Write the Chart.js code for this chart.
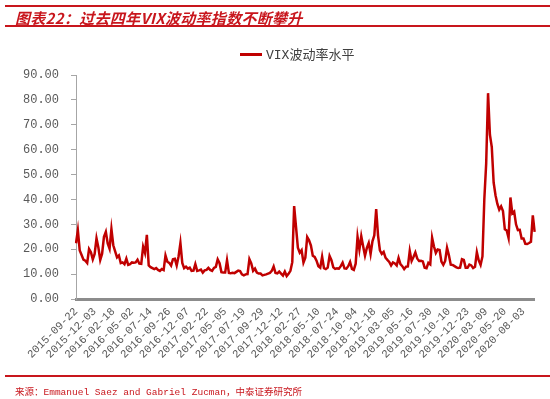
<!DOCTYPE html>
<html>
<head>
<meta charset="utf-8">
<script src="https://cdn.jsdelivr.net/npm/chart.js@4.4.1/dist/chart.umd.min.js"></script>
<style>
  html, body { margin: 0; padding: 0; background: #fff; }
  #wrap { position: relative; width: 550px; height: 399px; overflow: hidden; }
  #chart { position: absolute; left: 0; top: 0; }
  .rule { position: absolute; left: 5px; width: 545px; height: 2px; background: #c8161d; }
  #title { position: absolute; left: 15px; top: 8px; font: italic bold 15px "Noto Sans CJK SC", sans-serif; color: #c8161d; line-height: 20px; white-space: nowrap; letter-spacing: 0.3px; }
  #legend { position: absolute; left: 240px; top: 47px; height: 18px; font: 13px "Liberation Mono", "Noto Sans CJK SC", monospace; color: #404040; line-height: 18px; white-space: nowrap; }
  #legend i { display: inline-block; width: 22px; height: 3px; background: #c00000; vertical-align: middle; margin-right: 4px; position: relative; top: -1px; }
  #source { position: absolute; left: 15px; top: 385px; font: 9.5px "Liberation Mono", "Noto Sans CJK SC", monospace; color: #c8161d; line-height: 16px; white-space: nowrap; }
</style>
</head>
<body>
<div id="wrap">
  <canvas id="chart" width="550" height="399"></canvas>
  <div class="rule" style="top:5px"></div>
  <div id="title">图表22：过去四年VIX波动率指数不断攀升</div>
  <div class="rule" style="top:25px"></div>
  <div id="legend"><i></i>VIX波动率水平</div>
  <div class="rule" style="top:375px"></div>
  <div id="source">来源：Emmanuel Saez and Gabriel Zucman，中泰证券研究所</div>
</div>
<script>
// tick labels, one every 50 trading days
const tickLabels = [
  "2015-09-22", "2015-12-03", "2016-02-18", "2016-05-02", "2016-07-14",
  "2016-09-26", "2016-12-07", "2017-02-22", "2017-05-05", "2017-07-19",
  "2017-09-29", "2017-12-12", "2018-02-27", "2018-05-10", "2018-07-24",
  "2018-10-04", "2018-12-18", "2019-03-05", "2019-05-16", "2019-07-30",
  "2019-10-10", "2019-12-23", "2020-03-09", "2020-05-20", "2020-08-03"
];
const pointsPerTick = 10; // one value every 5 trading days

const vix = [
  22.4, 27.6, 19.5, 17.7, 15.8, 15.4, 14.5, 20.1, 18.8, 15.9,
  18.1, 24.4, 20.7, 15.7, 18.2, 25.0, 27.0, 22.3, 20.2, 28.1,
  21.6, 19.1, 16.7, 17.5, 14.4, 14.7, 14.0, 16.2, 13.7, 14.0,
  14.7, 14.6, 14.7, 15.8, 14.2, 14.1, 21.0, 18.5, 25.8, 13.5,
  12.8, 12.4, 12.0, 12.4, 11.7, 11.3, 12.0, 11.6, 17.5, 15.0,
  14.5, 13.4, 16.0, 16.2, 13.5, 17.1, 22.5, 14.5, 12.4, 13.0,
  12.2, 12.6, 11.3, 11.4, 14.0, 11.3, 11.5, 11.8, 10.6, 11.5,
  11.7, 12.5, 11.7, 11.3, 12.5, 12.9, 15.9, 14.4, 10.8, 10.6,
  10.6, 15.6, 10.5, 10.4, 10.5, 10.4, 10.9, 11.4, 11.2, 9.9,
  9.5, 9.9, 10.0, 16.0, 14.3, 11.3, 12.2, 10.6, 10.2, 10.2,
  9.5, 9.7, 9.9, 10.2, 10.5, 11.3, 13.1, 10.5, 10.3, 11.0,
  10.2, 9.4, 11.0, 9.2, 10.1, 11.3, 14.8, 37.3, 29.0, 20.6,
  18.6, 19.6, 14.6, 16.6, 24.9, 23.6, 21.5, 17.4, 16.9, 15.4,
  13.2, 12.6, 17.0, 12.4, 12.0, 12.6, 17.3, 15.6, 12.7, 12.1,
  12.3, 12.2, 13.2, 14.6, 12.3, 12.2, 13.2, 14.9, 12.1, 11.7,
  14.2, 25.0, 19.9, 25.2, 21.2, 17.4, 20.5, 22.5, 18.1, 23.2,
  25.6, 36.1, 25.5, 19.5, 18.1, 18.9, 16.6, 15.7, 14.9, 13.5,
  14.7, 14.3, 13.5, 16.5, 14.0, 13.2, 12.0, 13.0, 13.1, 19.3,
  15.3, 16.9, 18.7, 16.3, 15.3, 15.4, 15.1, 12.6, 12.4, 14.5,
  13.9, 24.6, 21.1, 18.5, 19.9, 19.7, 15.0, 13.7, 15.3, 20.6,
  17.6, 13.8, 13.7, 13.2, 12.7, 12.5, 12.6, 16.0, 15.7, 12.6,
  12.6, 13.8, 13.5, 12.4, 12.9, 18.8, 15.5, 13.7, 17.1, 40.1,
  54.5, 82.7, 66.0, 61.0, 46.8, 41.7, 38.2, 35.9, 37.2, 35.3,
  28.0, 27.5, 24.5, 40.8, 34.4, 35.1, 30.0, 27.7, 27.8, 24.3,
  24.3, 22.2, 22.1, 22.5, 23.0, 33.6, 27.0
];

const yMin = 0, yMax = 90, yStep = 10;

const labels = vix.map((_, i) =>
  i % pointsPerTick === 0 ? (tickLabels[i / pointsPerTick] || "") : ""
);

const axisFont = { family: "'Liberation Mono', monospace", size: 11 };

new Chart(document.getElementById("chart"), {
  type: "line",
  data: {
    labels,
    datasets: [{
      label: "VIX波动率水平",
      data: vix,
      borderColor: "#c00000",
      backgroundColor: "#c00000",
      borderWidth: 2.5,
      pointRadius: 0,
      tension: 0
    }]
  },
  options: {
    responsive: false,
    animation: false,
    layout: { padding: { top: 75, right: 4, left: 0, bottom: 0 } },
    plugins: {
      legend: { display: false },
      tooltip: { enabled: false }
    },
    scales: {
      x: {
        type: "category",
        offset: false,
        grid: { display: false, drawTicks: false },
        border: { display: true, color: "#8c8c8c", width: 3 },
        ticks: {
          autoSkip: false,
          maxRotation: 45,
          minRotation: 45,
          padding: 6,
          color: "#595959",
          font: axisFont
        },
        afterFit: (scale) => { scale.height = 100; }
      },
      y: {
        min: yMin,
        max: yMax,
        grid: { drawOnChartArea: false, drawTicks: true, tickLength: 5, color: "#a6a6a6" },
        border: { display: true, color: "#a6a6a6", width: 1 },
        ticks: {
          stepSize: yStep,
          padding: 12,
          color: "#595959",
          font: { family: "'Liberation Mono', monospace", size: 12 },
          callback: (v) => v.toFixed(2)
        },
        afterFit: (scale) => { scale.width = 76; }
      }
    }
  }
});
</script>
</body>
</html>
